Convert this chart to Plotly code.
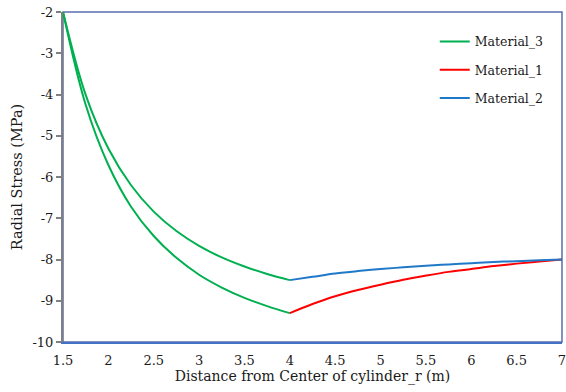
import plotly.graph_objects as go

# Radial stress through a three-layer thick-walled cylinder
r_inner = [1.5, 1.75, 2.0, 2.25, 2.5, 2.75, 3.0, 3.25, 3.5, 3.75, 4.0]
r_outer = [4.0, 4.25, 4.5, 4.75, 5.0, 5.25, 5.5, 5.75, 6.0, 6.25, 6.5, 6.75, 7.0]

# Material_3 (inner layer), paired with Material_2 outside
m3_upper = [-2.0, -4.01, -5.31, -6.20, -6.84, -7.31, -7.67, -7.95, -8.17, -8.35, -8.50]
# Material_3 (inner layer), paired with Material_1 outside
m3_lower = [-2.0, -4.25, -5.71, -6.72, -7.43, -7.96, -8.37, -8.68, -8.93, -9.13, -9.30]
# Outer layers
m1 = [-9.30, -9.08, -8.89, -8.74, -8.61, -8.49, -8.39, -8.30, -8.23, -8.16, -8.10, -8.05, -8.00]
m2 = [-8.50, -8.42, -8.34, -8.28, -8.23, -8.19, -8.15, -8.12, -8.09, -8.06, -8.04, -8.02, -8.00]

x_ticks = [1.5, 2, 2.5, 3, 3.5, 4, 4.5, 5, 5.5, 6, 6.5, 7]
y_ticks = [-10, -9, -8, -7, -6, -5, -4, -3, -2]

GREEN = "#00B050"
RED = "#FF0000"
BLUE = "#1F78C8"
FONT = "DejaVu Serif"

fig = go.Figure()
fig.add_trace(go.Scatter(x=r_inner, y=m3_upper, mode="lines", name="Material_3",
                         line=dict(color=GREEN, width=2, shape="spline"),
                         legendgroup="g3", legendrank=1))
fig.add_trace(go.Scatter(x=r_inner, y=m3_lower, mode="lines", name="Material_3",
                         line=dict(color=GREEN, width=2, shape="spline"),
                         legendgroup="g3", showlegend=False))
fig.add_trace(go.Scatter(x=r_outer, y=m1, mode="lines", name="Material_1",
                         line=dict(color=RED, width=2, shape="spline"),
                         legendgroup="g1", legendrank=2))
fig.add_trace(go.Scatter(x=r_outer, y=m2, mode="lines", name="Material_2",
                         line=dict(color=BLUE, width=2, shape="spline"),
                         legendgroup="g2", legendrank=3))

fig.update_layout(
    width=566, height=392,
    margin=dict(l=63, r=4, t=12, b=50),
    paper_bgcolor="white", plot_bgcolor="white",
    font=dict(family=FONT, color="#1a1a1a", size=13),
    showlegend=True,
    legend=dict(x=0.745, y=0.955, xanchor="left", yanchor="top",
                bgcolor="rgba(0,0,0,0)", font=dict(size=12.5, family=FONT),
                tracegroupgap=9, itemwidth=30),
    shapes=[dict(type="rect", xref="paper", yref="paper", x0=0, y0=0, x1=1, y1=1,
                 line=dict(color="#5A6EAA", width=1.5), layer="below")],
)

fig.update_xaxes(range=[1.5, 7], tickvals=x_ticks, ticktext=[f"{v:g}" for v in x_ticks],
                 showgrid=False, zeroline=False, showline=True,
                 linecolor="#4472C4", linewidth=1.5, ticks="",
                 ticklabelstandoff=6, automargin=False, ticklabeloverflow="allow",
                 tickfont=dict(size=13, family=FONT),
                 title=dict(text="Distance from Center of cylinder_r (m)",
                            font=dict(size=14, family=FONT), standoff=1))
fig.update_yaxes(range=[-10, -2], tickvals=y_ticks, ticktext=[str(v) for v in y_ticks],
                 showgrid=False, zeroline=False, showline=True,
                 linecolor="#808080", linewidth=2, ticks="outside", ticklen=5,
                 tickcolor="#808080", tickwidth=1.5, automargin=False,
                 tickfont=dict(size=13, family=FONT),
                 title=dict(text="Radial Stress (MPa)",
                            font=dict(size=14.5, family=FONT), standoff=6))

fig.write_html("out.html")
